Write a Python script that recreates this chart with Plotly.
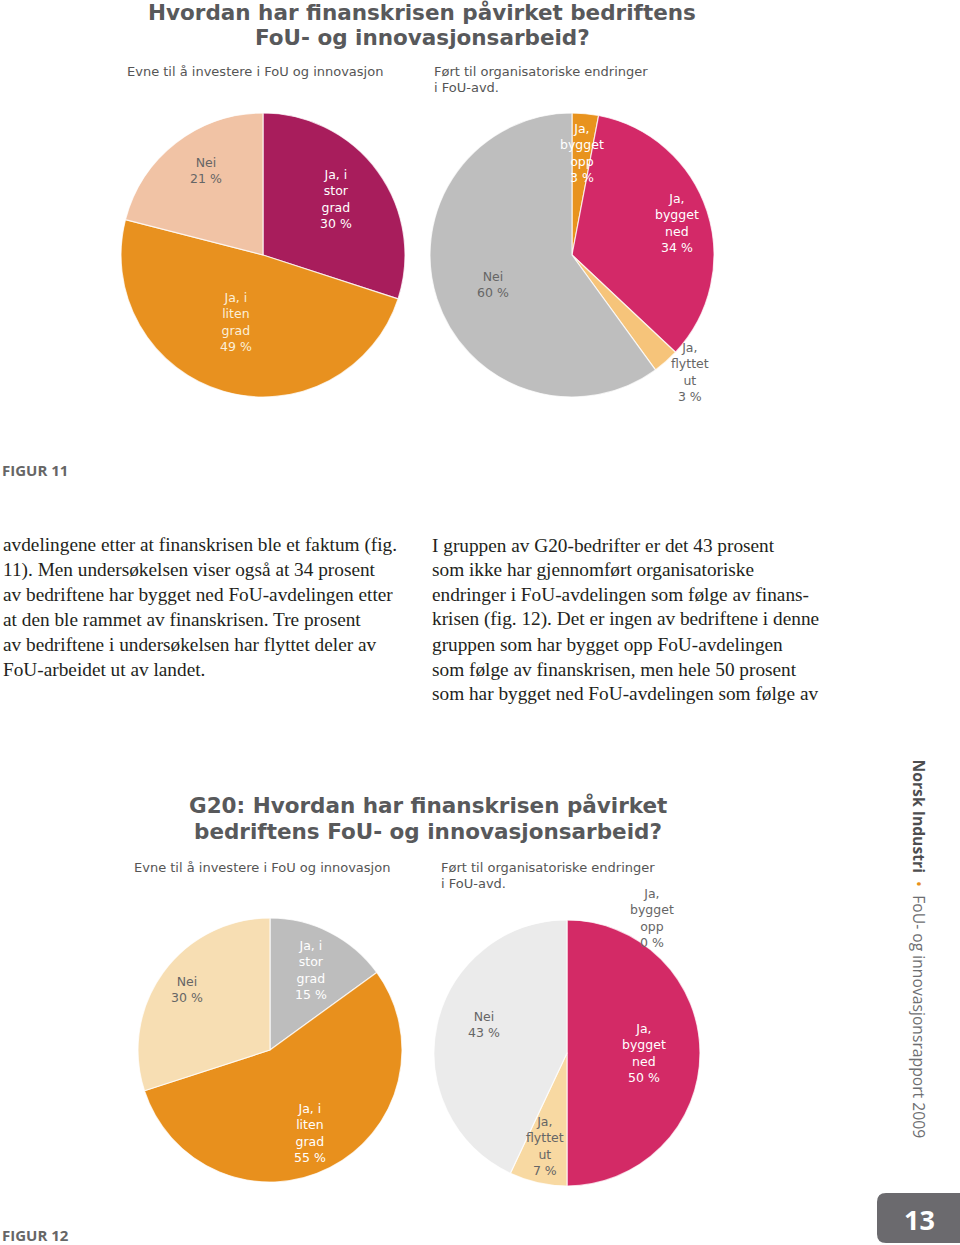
import math
import plotly.graph_objects as go

W, H = 960, 1245

# ---------------- data ----------------
p1_labels = ["Ja, i stor grad", "Ja, i liten grad", "Nei"]
p1_text = ["Ja, i<br>stor<br>grad", "Ja, i<br>liten<br>grad", "Nei"]
p1_values = [30, 49, 21]

p2_labels = ["Ja, bygget opp", "Ja, bygget ned", "Ja, flyttet ut", "Nei"]
p2_text = ["Ja,<br>bygget<br>opp", "Ja,<br>bygget<br>ned", "Ja,<br>flyttet<br>ut", "Nei"]
p2_values = [3, 34, 3, 60]

p3_labels = ["Ja, i stor grad", "Ja, i liten grad", "Nei"]
p3_text = ["Ja, i<br>stor<br>grad", "Ja, i<br>liten<br>grad", "Nei"]
p3_values = [15, 55, 30]

p4_labels = ["Ja, bygget opp", "Ja, bygget ned", "Ja, flyttet ut", "Nei"]
p4_text = ["Ja,<br>bygget<br>opp", "Ja,<br>bygget<br>ned", "Ja,<br>flyttet<br>ut", "Nei"]
p4_values = [0, 50, 7, 43]

title1 = ["Hvordan har finanskrisen påvirket bedriftens", "FoU- og innovasjonsarbeid?"]
title2 = ["G20: Hvordan har finanskrisen påvirket", "bedriftens FoU- og innovasjonsarbeid?"]
sub_left = "Evne til å investere i FoU og innovasjon"
sub_right = ["Ført til organisatoriske endringer", "i FoU-avd."]

body_left = [
    "avdelingene etter at finanskrisen ble et faktum (fig.",
    "11). Men undersøkelsen viser også at 34 prosent",
    "av bedriftene har bygget ned FoU-avdelingen etter",
    "at den ble rammet av finanskrisen. Tre prosent",
    "av bedriftene i undersøkelsen har flyttet deler av",
    "FoU-arbeidet ut av landet.",
]
body_right = [
    "I gruppen av G20-bedrifter er det 43 prosent",
    "som ikke har gjennomført organisatoriske",
    "endringer i FoU-avdelingen som følge av finans-",
    "krisen (fig. 12). Det er ingen av bedriftene i denne",
    "gruppen som har bygget opp FoU-avdelingen",
    "som følge av finanskrisen, men hele 50 prosent",
    "som har bygget ned FoU-avdelingen som følge av",
]
fig_labels = ["FIGUR 11", "FIGUR 12"]
side_bold = "Norsk Industri"
side_rest = "FoU- og innovasjonsrapport 2009"
page_no = "13"

# ---------------- styles ----------------
pies = [
    dict(labels=p1_labels, text=p1_text, values=p1_values, cx=263, cy=255, r=142,
         colors=["#A81D5C", "#E8911F", "#F1C3A5"],
         tcol=["white", "#FBEFD8", "#666666"],
         lf=[0.65, 0.51, 0.72], ld=[-1.5, 5.4, 3.8]),
    dict(labels=p2_labels, text=p2_text, values=p2_values, cx=572, cy=255, r=142,
         colors=["#E8931E", "#D32968", "#F6C47A", "#BEBEBE"],
         tcol=["white", "white", "#666666", "#666666"],
         lf=[0.72, 0.77, 1.17, 0.59], ld=[0, 0.9, -3.8, -2.4]),
    dict(labels=p3_labels, text=p3_text, values=p3_values, cx=270, cy=1050, r=132,
         colors=["#BDBDBD", "#E8901D", "#F7DEB3"],
         tcol=["white", "white", "#666666"],
         lf=[0.68, 0.70, 0.78], ld=[0, 1.3, 0]),
    dict(labels=p4_labels, text=p4_text, values=p4_values, cx=567, cy=1053, r=133,
         colors=["#E8931E", "#D32A66", "#F8D9A2", "#EBEBEB"],
         tcol=["#666666", "white", "#666666", "#666666"],
         lf=[1.2, 0.58, 0.72, 0.66], ld=[32, 0, 0.4, 6.4]),
]

fig = go.Figure()
annotations = []

for p in pies:
    cx, cy, r = p["cx"], p["cy"], p["r"]
    fig.add_trace(go.Pie(
        labels=p["labels"], values=p["values"], sort=False,
        direction="clockwise", rotation=0,
        marker=dict(colors=p["colors"], line=dict(color="rgba(255,255,255,0.75)", width=1.2)),
        textinfo="none", hoverinfo="skip", showlegend=False,
        domain=dict(x=[(cx - r) / W, (cx + r) / W], y=[1 - (cy + r) / H, 1 - (cy - r) / H]),
    ))
    total = sum(p["values"])
    cum = 0
    for i, v in enumerate(p["values"]):
        mid = (cum + v / 2) / total * 360 + p["ld"][i]
        cum += v
        th = math.radians(mid)
        x = cx + p["lf"][i] * r * math.sin(th)
        y = cy - p["lf"][i] * r * math.cos(th)
        annotations.append(dict(
            x=x, y=y, xref="x", yref="y", showarrow=False,
            text=f"{p['text'][i]}<br>{v} %", align="center",
            font=dict(family="DejaVu Sans", size=12.5, color=p["tcol"][i]),
            xanchor="center", yanchor="middle"))

title_font = dict(family="DejaVu Sans", size=21.5, color="#58595B")
for i, t in enumerate(title1):
    annotations.append(dict(x=422, y=12 + 25 * i, text=f"<b>{t}</b>", showarrow=False,
                            xref="x", yref="y", xanchor="center", yanchor="middle", font=title_font))
for i, t in enumerate(title2):
    annotations.append(dict(x=428, y=805 + 26 * i, text=f"<b>{t}</b>", showarrow=False,
                            xref="x", yref="y", xanchor="center", yanchor="middle",
                            font=title_font))

sub_font = dict(family="DejaVu Sans", size=13, color="#555555")
for (lx, rx, y0) in [(125, 432, 71), (132, 439, 867)]:
    annotations.append(dict(x=lx, y=y0, text=sub_left, showarrow=False, xref="x", yref="y",
                            xanchor="left", yanchor="middle", font=sub_font))
    for j, t in enumerate(sub_right):
        annotations.append(dict(x=rx, y=y0 + 16 * j, text=t, showarrow=False, xref="x", yref="y",
                                xanchor="left", yanchor="middle", font=sub_font))

fig_font = dict(family="Open Sans", size=15, color="#666666")
for t, y0 in zip(fig_labels, [470, 1235]):
    annotations.append(dict(x=0, y=y0, text=f"<b>{t}</b>", showarrow=False, xref="x", yref="y",
                            xanchor="left", yanchor="middle", font=fig_font))

body_font = dict(family="Liberation Serif", size=19.3, color="#231F20")
for i, t in enumerate(body_left):
    annotations.append(dict(x=1, y=545 + 24.8 * i, text=t, showarrow=False, xref="x", yref="y",
                            xanchor="left", yanchor="middle", font=body_font))
for i, t in enumerate(body_right):
    annotations.append(dict(x=430, y=545 + 24.8 * i, text=t, showarrow=False, xref="x", yref="y",
                            xanchor="left", yanchor="middle", font=body_font))

annotations.append(dict(
    x=919, y=757, xref="x", yref="y", showarrow=False, textangle=90,
    xanchor="center", yanchor="top",
    text=(f"<b><span style='color:#4D4D4F'>{side_bold}</span></b>  "
          f"<span style='color:#E8901C'>•</span>  {side_rest}"),
    font=dict(family="Open Sans", size=15.7, color="#6D6E71")))

annotations.append(dict(x=919, y=1219, xref="x", yref="y", showarrow=False,
                        text=f"<b>{page_no}</b>", xanchor="center", yanchor="middle",
                        font=dict(family="Open Sans", size=27, color="white")))

# page tab shape
rr = 9
x0, x1, y0, y1 = 877, 965, 1193, 1243
path = (f"M {x0+rr},{y0} L {x1},{y0} L {x1},{y1} L {x0+rr},{y1} "
        f"Q {x0},{y1} {x0},{y1-rr} L {x0},{y0+rr} Q {x0},{y0} {x0+rr},{y0} Z")

fig.update_layout(
    width=W, height=H, margin=dict(l=0, r=0, t=0, b=0),
    paper_bgcolor="white", plot_bgcolor="rgba(0,0,0,0)",
    xaxis=dict(range=[0, W], visible=False, fixedrange=True, domain=[0, 1]),
    yaxis=dict(range=[H, 0], visible=False, fixedrange=True, domain=[0, 1]),
    annotations=annotations,
    shapes=[dict(type="path", path=path, xref="x", yref="y",
                 fillcolor="#6B6A6E", line=dict(width=0), layer="below")],
)

fig.write_html("out.html", config={"displayModeBar": False},
               post_script="document.body.style.margin='0px';document.body.style.overflow='hidden';")
